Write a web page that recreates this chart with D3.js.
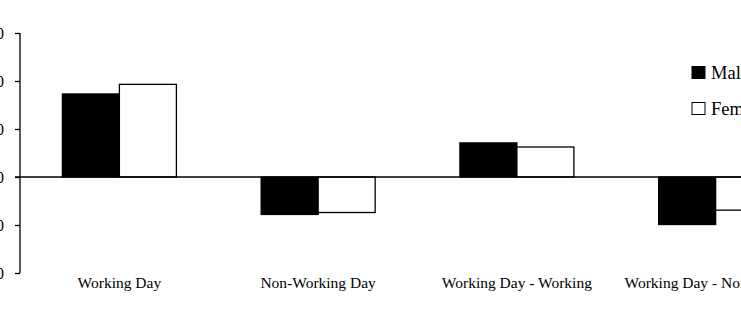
<!DOCTYPE html>
<html>
<head>
<meta charset="utf-8">
<script src="https://cdn.jsdelivr.net/npm/d3@7"></script>
<style>
  body { margin: 0; background: #fff; }
  svg { display: block; }
  text { font-family: "Liberation Serif", "Times New Roman", serif; fill: #000; }
</style>
</head>
<body>
<div id="chart"></div>
<script>
var categories = ["Working Day", "Non-Working Day", "Working Day - Working", "Working Day - Non-Working"];
var series = ["Male", "Female"];
var maleValues = [17.3, -7.8, 7.1, -9.9];
var femaleValues = [19.3, -7.4, 6.25, -6.9];
var yTicks = [-20, -10, 0, 10, 20, 30];

var width = 741, height = 331;

var svg = d3.select("#chart")
    .append("svg")
    .attr("width", width)
    .attr("height", height);

var x = d3.scaleBand()
    .domain(categories)
    .range([20, 815]);

// two bars of 57px centred in each 198.75px group
var xs = d3.scaleBand()
    .domain(series)
    .range([42.4, 156.4]);

var y = d3.scaleLinear()
    .domain([-20, 30])
    .range([273, 33]);

var fills = { Male: "#000", Female: "#fff" };

var rows = categories.map(function(c, i) {
  return [{ cat: c, s: "Male", v: maleValues[i] }, { cat: c, s: "Female", v: femaleValues[i] }];
});

var groups = svg.append("g").selectAll("g")
    .data(rows)
  .enter().append("g")
    .attr("transform", function(d) { return "translate(" + x(d[0].cat) + ",0)"; });

groups.selectAll("rect")
    .data(function(d) { return d; })
  .enter().append("rect")
    .attr("x", function(d) { return xs(d.s); })
    .attr("width", xs.bandwidth())
    .attr("y", function(d) { return y(Math.max(0, d.v)); })
    .attr("height", function(d) { return Math.abs(y(d.v) - y(0)); })
    .attr("fill", function(d) { return fills[d.s]; })
    .attr("stroke", "#000")
    .attr("stroke-width", 1.3);

// zero line
svg.append("line")
    .attr("x1", 15).attr("x2", width)
    .attr("y1", y(0)).attr("y2", y(0))
    .attr("stroke", "#000")
    .attr("stroke-width", 1.3);

// y axis (labels are cut off by the left edge, as in the source image)
var yAxis = svg.append("g")
    .attr("transform", "translate(20,0)")
    .call(d3.axisLeft(y).tickValues(yTicks).tickSize(5).tickPadding(11).tickFormat(d3.format("d")));
yAxis.selectAll("path, line").attr("stroke", "#000").attr("stroke-width", 1.3);
yAxis.select(".domain").attr("d", "M0," + y(30) + "V" + y(-20));
yAxis.selectAll("text")
    .style("font-family", "'Liberation Serif', serif")
    .style("font-size", "16px");

// category labels
svg.append("g").selectAll("text")
    .data(categories)
  .enter().append("text")
    .attr("x", function(d) { return x(d) + x.bandwidth() / 2; })
    .attr("y", 288)
    .attr("text-anchor", "middle")
    .style("font-size", "15.5px")
    .text(function(d) { return d; });

// legend
var legend = svg.append("g").selectAll("g")
    .data(series)
  .enter().append("g")
    .attr("transform", function(d, i) { return "translate(692," + (66.5 + i * 36) + ")"; });

legend.append("rect")
    .attr("width", 13).attr("height", 12)
    .attr("fill", function(d) { return fills[d]; })
    .attr("stroke", "#000")
    .attr("stroke-width", 1);

legend.append("text")
    .attr("x", 19)
    .attr("y", 12.5)
    .style("font-size", "18.5px")
    .text(function(d) { return d; });
</script>
</body>
</html>
